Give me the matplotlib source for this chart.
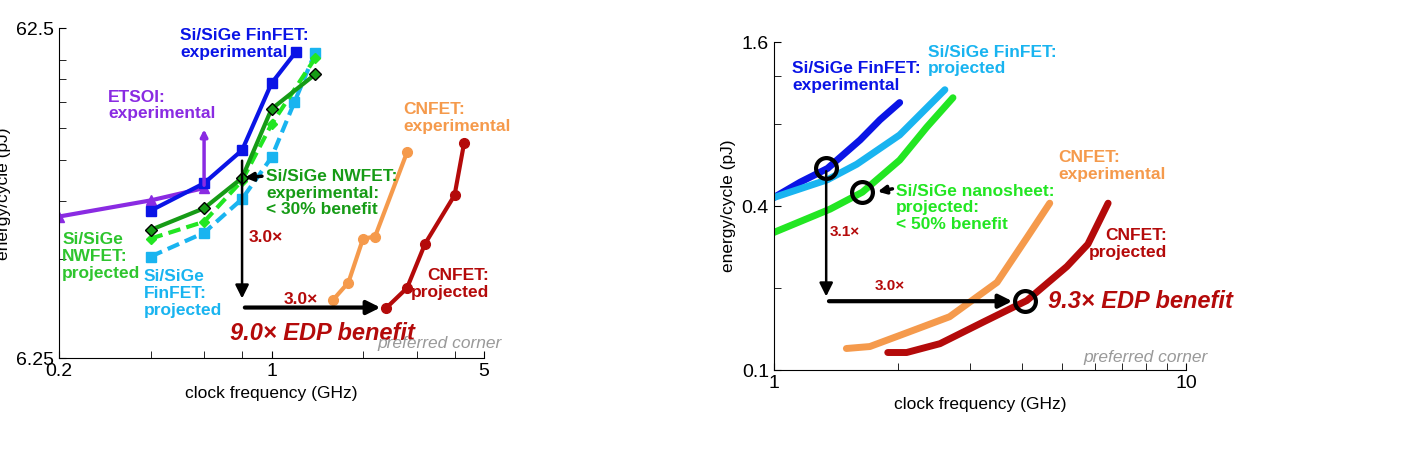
import numpy as np
from matplotlib import pyplot as plt
from matplotlib.ticker import FixedLocator, NullFormatter

plt.rcParams['font.family'] = ['Liberation Sans', 'DejaVu Sans']

# ---------------- left panel data ----------------
f_fin_exp = [0.4, 0.6, 0.8, 1.0, 1.2]
e_fin_exp = [17.5, 21.2, 26.7, 42.6, 52.9]
f_etsoi = [0.2, 0.4, 0.6]
e_etsoi = [16.8, 18.8, 20.5]
f_nw_exp = [0.4, 0.6, 0.8, 1.0, 1.39]
e_nw_exp = [15.3, 17.8, 22.0, 35.6, 45.3]
f_nw_proj = [0.4, 0.6, 0.8, 1.0, 1.39]
e_nw_proj = [14.4, 16.2, 21.6, 32.0, 50.7]
f_fin_proj = [0.4, 0.6, 0.8, 1.0, 1.19, 1.39]
e_fin_proj = [12.7, 15.0, 19.0, 25.4, 37.4, 52.6]
f_cn_exp = [1.59, 1.79, 2.0, 2.19, 2.79]
e_cn_exp = [9.37, 10.6, 14.4, 14.6, 26.3]
f_cn_proj = [2.38, 2.79, 3.2, 4.0, 4.3]
e_cn_proj = [8.86, 10.2, 13.9, 19.5, 28.1]

# ---------------- right panel data ----------------
rf_fin_exp = [1.0, 1.16, 1.35, 1.62, 1.81, 2.02]
re_fin_exp = [0.43, 0.49, 0.55, 0.70, 0.83, 0.96]
rf_fin_proj = [1.0, 1.35, 1.59, 2.02, 2.6]
re_fin_proj = [0.43, 0.50, 0.57, 0.73, 1.07]
rf_ns = [1.0, 1.37, 1.64, 2.02, 2.35, 2.72]
re_ns = [0.32, 0.39, 0.45, 0.59, 0.78, 1.00]
rf_cn_exp = [1.50, 1.71, 2.02, 2.67, 3.48, 4.11, 4.67]
re_cn_exp = [0.12, 0.122, 0.134, 0.157, 0.21, 0.306, 0.41]
rf_cn_proj = [1.89, 2.10, 2.53, 3.22, 4.11, 5.14, 5.78, 6.47]
re_cn_proj = [0.116, 0.116, 0.125, 0.15, 0.18, 0.24, 0.29, 0.41]

BLUE = '#0a14e6'
CYAN = '#19b4f0'
DKGREEN = '#169b16'
LTGREEN = '#22e622'
PURPLE = '#8a2be2'
ORANGE = '#f59a4c'
DKRED = '#b40a0a'

fig = plt.figure(figsize=(14.12, 4.58), dpi=100)
ax1 = fig.add_axes([0.0418, 0.218, 0.301, 0.72])
ax2 = fig.add_axes([0.548, 0.192, 0.292, 0.716])

for ax in (ax1, ax2):
    ax.set_xscale('log')
    ax.set_yscale('log')
    ax.spines['top'].set_visible(False)
    ax.spines['right'].set_visible(False)
    ax.tick_params(which='both', direction='in', labelsize=14, length=5)
    ax.yaxis.set_minor_formatter(NullFormatter())
    ax.xaxis.set_minor_formatter(NullFormatter())
    ax.set_xlabel('clock frequency (GHz)', fontsize=12.5)
    ax.set_ylabel('energy/cycle (pJ)', fontsize=12.5)

tb = dict(fontweight='bold', fontsize=12.5, linespacing=1.15, va='center')

# ---- left ----
ax1.set_xlim(0.2, 5)
ax1.set_ylim(6.25, 62.5)
ax1.xaxis.set_major_locator(FixedLocator([0.2, 1, 5]))
ax1.xaxis.set_minor_locator(FixedLocator([0.4, 0.6, 0.8, 2, 3, 4]))
ax1.set_xticklabels(['0.2', '1', '5'])
ax1.yaxis.set_major_locator(FixedLocator([6.25, 62.5]))
ax1.yaxis.set_minor_locator(FixedLocator([12.5, 18.75, 25, 31.25, 37.5, 43.75, 50]))
ax1.set_yticklabels(['6.25', '62.5'])

ax1.plot(f_etsoi, e_etsoi, '-^', color=PURPLE, lw=3, ms=7)
ax1.annotate('', xy=(0.6, 31.5), xytext=(0.6, 20.5),
             arrowprops=dict(arrowstyle='-|>', color=PURPLE, lw=2.5))
ax1.plot(f_fin_proj, e_fin_proj, '--s', color=CYAN, lw=3, ms=7, dashes=(3, 1.5))
ax1.plot(f_nw_proj, e_nw_proj, '--D', color=LTGREEN, lw=3, ms=5, dashes=(3, 1.5))
ax1.plot(f_fin_exp, e_fin_exp, '-s', color=BLUE, lw=3, ms=7)
ax1.plot(f_nw_exp, e_nw_exp, '-D', color=DKGREEN, lw=3, ms=6, mfc=DKGREEN, mec='black')
ax1.plot(f_cn_exp, e_cn_exp, '-o', color=ORANGE, lw=3, ms=7)
ax1.plot(f_cn_proj, e_cn_proj, '-o', color=DKRED, lw=3, ms=7)

ax1.annotate('', xy=(0.8, 9.3), xytext=(0.8, 25.3),
             arrowprops=dict(arrowstyle='-|>', color='black', lw=1.8, mutation_scale=20))
ax1.annotate('', xy=(2.33, 8.9), xytext=(0.8, 8.9),
             arrowprops=dict(arrowstyle='-|>', color='black', lw=3, mutation_scale=20))
ax1.annotate('', xy=(0.8, 22.0), xytext=(0.95, 22.3),
             arrowprops=dict(arrowstyle='-|>', color='black', lw=2.5, mutation_scale=12))

ax1.text(0.5, 56, 'Si/SiGe FinFET:\nexperimental', color=BLUE, **tb)
ax1.text(0.29, 36.5, 'ETSOI:\nexperimental', color=PURPLE, **tb)
ax1.text(2.72, 33.4, 'CNFET:\nexperimental', color=ORANGE, **tb)
ax1.text(0.96, 19.8, 'Si/SiGe NWFET:\nexperimental:\n< 30% benefit', color=DKGREEN, **tb)
ax1.text(0.205, 12.7, 'Si/SiGe\nNWFET:\nprojected', color='#2ec52e', **tb)
ax1.text(0.38, 9.8, 'Si/SiGe\nFinFET:\nprojected', color=CYAN, **tb)
ax1.text(5.2, 10.5, 'CNFET:\nprojected', color=DKRED, ha='right', **tb)
ax1.text(0.84, 14.5, '3.0×', color=DKRED, va='center', fontweight='bold', fontsize=12.5)
ax1.text(1.1, 9.4, '3.0×', color=DKRED, va='center', fontweight='bold', fontsize=12.5)
ax1.text(0.73, 7.4, '9.0× EDP benefit', color=DKRED, va='center', fontsize=17,
         fontweight='bold', style='italic')
ax1.text(5.7, 6.93, 'preferred corner', color='#999999', ha='right', va='center',
         fontsize=12.5, style='italic')

# ---- right ----
ax2.set_xlim(1, 10)
ax2.set_ylim(0.1, 1.6)
ax2.xaxis.set_major_locator(FixedLocator([1, 10]))
ax2.xaxis.set_minor_locator(FixedLocator([2, 3, 4, 5, 6, 7, 8, 9]))
ax2.set_xticklabels(['1', '10'])
ax2.yaxis.set_major_locator(FixedLocator([0.1, 0.4, 1.6]))
ax2.yaxis.set_minor_locator(FixedLocator([0.2, 0.8, 1.2]))
ax2.set_yticklabels(['0.1', '0.4', '1.6'])

lw = 5
ax2.plot(rf_fin_exp, re_fin_exp, color=BLUE, lw=lw, solid_capstyle='round')
ax2.plot(rf_fin_proj, re_fin_proj, color=CYAN, lw=lw, solid_capstyle='round')
ax2.plot(rf_ns, re_ns, color=LTGREEN, lw=lw, solid_capstyle='round')
ax2.plot(rf_cn_exp, re_cn_exp, color=ORANGE, lw=lw, solid_capstyle='round')
ax2.plot(rf_cn_proj, re_cn_proj, color=DKRED, lw=lw, solid_capstyle='round')

circ_f = [1.34, 1.64, 4.06]
circ_e = [0.55, 0.45, 0.18]
ax2.plot(circ_f, circ_e, 'o', ms=15, mfc='none', mec='black', mew=3)

ax2.annotate('', xy=(1.34, 0.182), xytext=(1.34, 0.55),
             arrowprops=dict(arrowstyle='-|>', color='black', lw=1.8, mutation_scale=20))
ax2.annotate('', xy=(3.85, 0.179), xytext=(1.34, 0.179),
             arrowprops=dict(arrowstyle='-|>', color='black', lw=3, mutation_scale=20))
ax2.annotate('', xy=(1.76, 0.45), xytext=(1.97, 0.465),
             arrowprops=dict(arrowstyle='-|>', color='black', lw=2.5, mutation_scale=12))

ax2.text(1.11, 1.19, 'Si/SiGe FinFET:\nexperimental', color=BLUE, **tb)
ax2.text(2.36, 1.37, 'Si/SiGe FinFET:\nprojected', color=CYAN, **tb)
ax2.text(1.98, 0.394, 'Si/SiGe nanosheet:\nprojected:\n< 50% benefit', color=LTGREEN, **tb)
ax2.text(4.89, 0.56, 'CNFET:\nexperimental', color=ORANGE, **tb)
ax2.text(9.0, 0.29, 'CNFET:\nprojected', color=DKRED, ha='right', **tb)
ax2.text(1.37, 0.32, '3.1×', color=DKRED, va='center', fontsize=11, fontweight='bold')
ax2.text(2.08, 0.203, '3.0×', color=DKRED, ha='right', va='center', fontsize=11, fontweight='bold')
ax2.text(4.62, 0.178, '9.3× EDP benefit', color=DKRED, va='center', fontsize=17,
         fontweight='bold', style='italic')
ax2.text(11.3, 0.1115, 'preferred corner', color='#999999', ha='right', va='center',
         fontsize=12.5, style='italic')

fig.savefig('out.png', dpi=100)
